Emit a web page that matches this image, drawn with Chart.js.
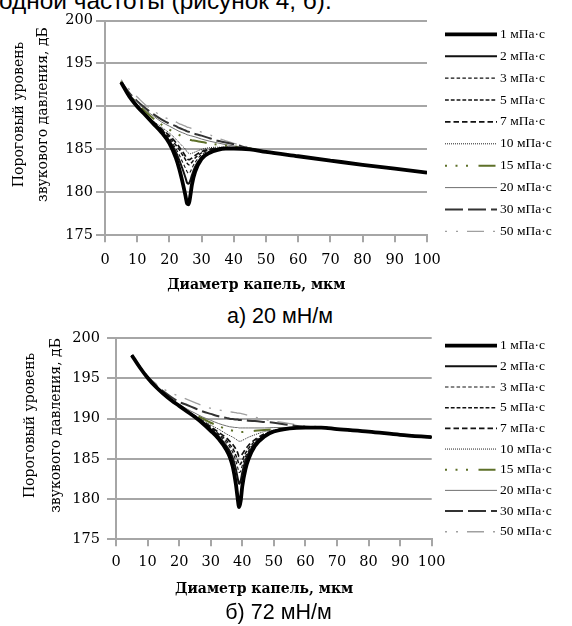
<!DOCTYPE html>
<html><head><meta charset="utf-8">
<script src="https://cdn.jsdelivr.net/npm/chart.js@4/dist/chart.umd.min.js"></script>
<style>
html,body{margin:0;padding:0;background:#fff;}
body{width:572px;height:626px;position:relative;overflow:hidden;}
canvas{position:absolute;left:0;}
.txt{position:absolute;font-family:"Liberation Sans",Arial,sans-serif;color:#000;white-space:nowrap;}
</style></head><body>
<div class="txt" style="left:-1px;top:-11px;font-size:24.4px;line-height:24px;">одной частоты (рисунок 4, б).</div>
<canvas id="cTop" width="572" height="300" style="top:0"></canvas>
<div class="txt" style="left:0;width:560px;text-align:center;top:303px;font-size:21.5px;line-height:26px;">а) 20 мН/м</div>
<canvas id="cBot" width="572" height="285" style="top:320px"></canvas>
<div class="txt" style="left:0;width:557px;text-align:center;top:599px;font-size:21.5px;line-height:26px;">б) 72 мН/м</div>
<script>
// ---- data ----
const seriesLabels = ['1 мПа·с','2 мПа·с','3 мПа·с','5 мПа·с','7 мПа·с','10 мПа·с','15 мПа·с','20 мПа·с','30 мПа·с','50 мПа·с'];
const xTicks = [0,10,20,30,40,50,60,70,80,90,100];
const yTicks = [175,180,185,190,195,200];
const xTitle = 'Диаметр капель, мкм';
const yTitle = ['Пороговый уровень', 'звукового давления, дБ'];

// а) 20 мН/м
const xTop = [5,7.5,10,12.5,15,17.5,20,22,23,24,25,25.5,26,26.5,27,28,30,32.5,35,37.5,40,45,50,60,70,80,90,100];
const top1  = [192.8,191.2,190.0,189.0,188.0,187.0,185.7,184.0,182.8,181.3,179.6,178.7,178.6,179.6,180.9,182.4,183.9,184.6,184.95,185.1,185.1,185.0,184.7,184.2,183.7,183.2,182.75,182.3];
const top2  = [192.8,191.2,190.0,189.0,188.1,187.1,186.0,184.7,183.8,182.8,181.7,181.1,181.0,181.4,182.0,183.0,184.1,184.7,185.0,185.1,185.1,185.0,184.7,184.2,183.7,183.2,182.75,182.3];
const top3  = [192.8,191.2,190.0,189.0,188.1,187.2,186.2,185.1,184.4,183.6,182.8,182.4,182.2,182.4,182.8,183.5,184.4,184.8,185.05,185.1,185.1,185.0,184.7,184.2,183.7,183.2,182.75,182.3];
const top5  = [192.8,191.3,190.1,189.1,188.2,187.3,186.4,185.5,185.0,184.4,183.8,183.4,183.2,183.3,183.5,184.0,184.6,184.95,185.1,185.15,185.1,185.0,184.7,184.2,183.7,183.2,182.75,182.3];
const top7  = [192.8,191.3,190.1,189.1,188.2,187.4,186.6,185.8,185.3,184.8,184.2,183.9,183.8,183.85,184.0,184.3,184.75,185.0,185.15,185.2,185.15,185.0,184.7,184.2,183.7,183.2,182.75,182.3];
const top10 = [192.8,191.3,190.2,189.2,188.3,187.6,186.9,186.2,185.8,185.4,185.0,184.7,184.55,184.5,184.55,184.7,185.0,185.2,185.25,185.25,185.2,185.0,184.7,184.2,183.7,183.2,182.75,182.3];
const top15 = [192.9,191.4,190.3,189.4,188.6,187.9,187.3,186.9,186.7,186.5,186.3,186.2,186.15,186.1,186.05,186.0,185.85,185.7,185.55,185.45,185.35,185.1,184.7,184.2,183.7,183.2,182.75,182.3];
const top20 = [192.9,191.5,190.5,189.6,188.9,188.2,187.7,187.3,187.1,186.95,186.8,186.7,186.65,186.6,186.55,186.45,186.2,185.95,185.75,185.55,185.4,185.1,184.7,184.2,183.7,183.2,182.75,182.3];
const top30 = [192.9,191.6,190.6,189.8,189.1,188.5,188.0,187.7,187.5,187.35,187.2,187.1,187.05,187.0,186.9,186.8,186.6,186.3,186.0,185.8,185.6,185.1,184.7,184.2,183.7,183.2,182.75,182.3];
const top50 = [193.1,192.0,191.1,190.2,189.5,188.9,188.5,188.2,188.0,187.85,187.7,187.6,187.55,187.5,187.4,187.25,187.0,186.7,186.3,186.0,185.7,185.2,184.7,184.2,183.7,183.2,182.75,182.3];

// б) 72 мН/м
const xBot = [5,7.5,10,12.5,15,17.5,20,22.5,25,27.5,30,32.5,35,36,37,38,38.5,39,39.5,40,41,42,44,47,50,55,60,65,70,80,90,100];
const bot1  = [197.9,196.4,195.1,194.0,193.1,192.3,191.6,190.9,190.2,189.4,188.5,187.5,186.1,185.3,184.0,181.8,180.2,179.0,179.8,181.6,183.7,185.0,186.6,187.8,188.4,188.8,188.9,188.9,188.7,188.4,188.0,187.7];
const bot2  = [197.9,196.4,195.1,194.0,193.1,192.3,191.6,190.9,190.2,189.5,188.7,187.8,186.6,186.0,185.1,183.7,182.7,181.9,182.3,183.3,184.8,185.7,186.9,187.9,188.4,188.8,188.9,188.9,188.7,188.4,188.0,187.7];
const bot3  = [197.9,196.4,195.1,194.0,193.1,192.3,191.6,190.9,190.3,189.6,188.8,188.0,187.0,186.5,185.8,184.7,184.0,183.3,183.5,184.2,185.3,186.0,187.0,187.9,188.4,188.8,188.9,188.9,188.7,188.4,188.0,187.7];
const bot5  = [197.9,196.4,195.1,194.0,193.1,192.3,191.6,190.9,190.3,189.6,188.9,188.1,187.3,186.8,186.3,185.4,184.9,184.3,184.4,184.8,185.7,186.3,187.2,188.0,188.5,188.8,188.9,188.9,188.7,188.4,188.0,187.7];
const bot7  = [197.9,196.4,195.1,194.0,193.1,192.3,191.6,190.9,190.3,189.7,189.0,188.3,187.6,187.2,186.8,186.2,185.8,185.3,185.4,185.6,186.2,186.7,187.4,188.1,188.5,188.8,188.9,188.9,188.7,188.4,188.0,187.7];
const bot10 = [197.9,196.4,195.1,194.0,193.1,192.3,191.6,190.9,190.4,189.8,189.2,188.7,188.1,187.9,187.7,187.45,187.3,187.2,187.2,187.3,187.5,187.7,188.0,188.4,188.6,188.8,188.9,188.9,188.7,188.4,188.0,187.7];
const bot15 = [197.9,196.4,195.1,194.0,193.1,192.3,191.7,191.0,190.5,190.0,189.5,189.1,188.7,188.6,188.5,188.4,188.4,188.35,188.35,188.35,188.4,188.4,188.5,188.6,188.7,188.8,188.9,188.9,188.7,188.4,188.0,187.7];
const bot20 = [197.9,196.4,195.1,194.0,193.2,192.4,191.8,191.2,190.7,190.2,189.8,189.4,189.1,189.0,188.95,188.9,188.9,188.85,188.85,188.85,188.85,188.85,188.85,188.85,188.9,188.9,188.95,188.9,188.7,188.4,188.0,187.7];
const bot30 = [197.9,196.5,195.2,194.2,193.4,192.7,192.1,191.7,191.3,190.9,190.6,190.3,190.1,190.0,189.95,189.9,189.9,189.85,189.85,189.8,189.8,189.75,189.7,189.6,189.5,189.2,189.0,188.95,188.7,188.4,188.0,187.7];
const bot50 = [197.9,196.5,195.3,194.4,193.7,193.2,192.8,192.4,192.0,191.6,191.3,191.1,190.9,190.85,190.8,190.75,190.7,190.7,190.65,190.6,190.5,190.4,190.2,189.9,189.7,189.4,189.1,189.0,188.75,188.4,188.0,187.7];

// ---- styles (by series order) ----
const seriesStyles = [
  {c:'#000000', w:3.8, d:[]},
  {c:'#111111', w:2,   d:[]},
  {c:'#111111', w:1.1, d:[3.5,2.3]},
  {c:'#111111', w:1.5, d:[3.8,2]},
  {c:'#111111', w:1.7, d:[5.5,3]},
  {c:'#222222', w:1,   d:[1,1]},
  {c:'#5e7029', w:2,   d:[2,8.5,2,8.5,2,10.5,17,8]},
  {c:'#707070', w:1,   d:[]},
  {c:'#333333', w:2,   d:[18,5]},
  {c:'#a0a0a0', w:1.3, d:[2,9,2,9,17,9]}
];

const GRID = '#a6a6a6';
const SERIF = '"Liberation Serif","Times New Roman",serif';
const WSERIF = '"DejaVu Serif",serif';

const sideLegend = {
  id: 'sideLegend',
  afterDraw(chart, args, o) {
    const ctx = chart.ctx;
    chart.data.datasets.forEach((ds, i) => {
      const y = o.y0 + i * o.dy;
      ctx.save();
      ctx.strokeStyle = ds.borderColor;
      ctx.lineWidth = ds.borderWidth;
      ctx.setLineDash(ds.borderDash || []);
      ctx.beginPath();
      ctx.moveTo(o.x0, y); ctx.lineTo(o.x1, y);
      ctx.stroke();
      ctx.setLineDash([]);
      ctx.fillStyle = '#000';
      ctx.font = o.font;
      ctx.textBaseline = 'middle';
      ctx.textAlign = 'left';
      ctx.fillText(ds.label, o.tx, y);
      ctx.restore();
    });
  }
};

function makeChart(id, xs, series, g) {
  const datasets = series.map((vals, i) => ({
    label: seriesLabels[i],
    data: xs.map((x, k) => ({x: x, y: vals[k]})),
    borderColor: seriesStyles[i].c,
    borderWidth: seriesStyles[i].w,
    borderDash: seriesStyles[i].d,
    pointRadius: 0,
    fill: false,
    cubicInterpolationMode: 'monotone'
  }));
  const yPad = '      ';   // shifts the rotated title up, as in the original
  return new Chart(document.getElementById(id), {
    type: 'line',
    data: {datasets},
    plugins: [sideLegend],
    options: {
      responsive: false,
      animation: false,
      events: [],
      layout: {padding: {left: 0, top: g.top, right: g.right, bottom: 0}},
      plugins: {
        legend: {display: false},
        tooltip: {enabled: false},
        sideLegend: g.legend
      },
      scales: {
        x: {
          type: 'linear', min: 0, max: 100,
          afterBuildTicks: s => { s.ticks = xTicks.map(v => ({value: v})); },
          afterFit: s => { s.height = g.xh; },
          ticks: {color: '#000', font: {family: WSERIF, size: 14.5}, padding: g.xpad, maxRotation: 0},
          grid: {drawOnChartArea: false, drawTicks: true, tickLength: 7, color: GRID, lineWidth: 2},
          border: {display: true, color: GRID, width: 2},
          title: {display: true, text: xTitle + '    ', color: '#000',
                  font: {family: WSERIF, size: 14, weight: 'bold', lineHeight: 1.2},
                  padding: {top: 0, bottom: g.xtpad}}
        },
        y: {
          min: 175, max: 200,
          afterBuildTicks: s => { s.ticks = yTicks.map(v => ({value: v})); },
          afterFit: s => { s.width = g.yw; },
          ticks: {color: '#000', font: {family: WSERIF, size: 14.5}, padding: g.ypad},
          grid: {drawTicks: true, tickLength: 9, color: GRID, lineWidth: 2},
          border: {display: true, color: GRID, width: 2},
          title: {display: true, text: yTitle.map(t => yPad + t), color: '#000',
                  font: {family: WSERIF, size: 14, lineHeight: g.ylh + 'px'},
                  padding: {top: g.ytpad, bottom: 0}}
        }
      }
    }
  });
}

makeChart('cTop', xTop, [top1,top2,top3,top5,top7,top10,top15,top20,top30,top50], {
  top: 20.5, right: 145, xh: 64.7, xpad: 9, xtpad: 6.6, yw: 105, ypad: 3, ylh: 24, ytpad: 7,
  legend: {x0: 445, x1: 497, tx: 500, y0: 34.3, dy: 21.9, font: '13.5px ' + SERIF}
});
makeChart('cBot', xBot, [bot1,bot2,bot3,bot5,bot7,bot10,bot15,bot20,bot30,bot50], {
  top: 18.3, right: 140.3, xh: 65.7, xpad: 7, xtpad: 7.5, yw: 116, ypad: 7, ylh: 26.5, ytpad: 17,
  legend: {x0: 445, x1: 497, tx: 500, y0: 25.7, dy: 20.67, font: '13.5px ' + SERIF}
});
</script>
</body></html>
